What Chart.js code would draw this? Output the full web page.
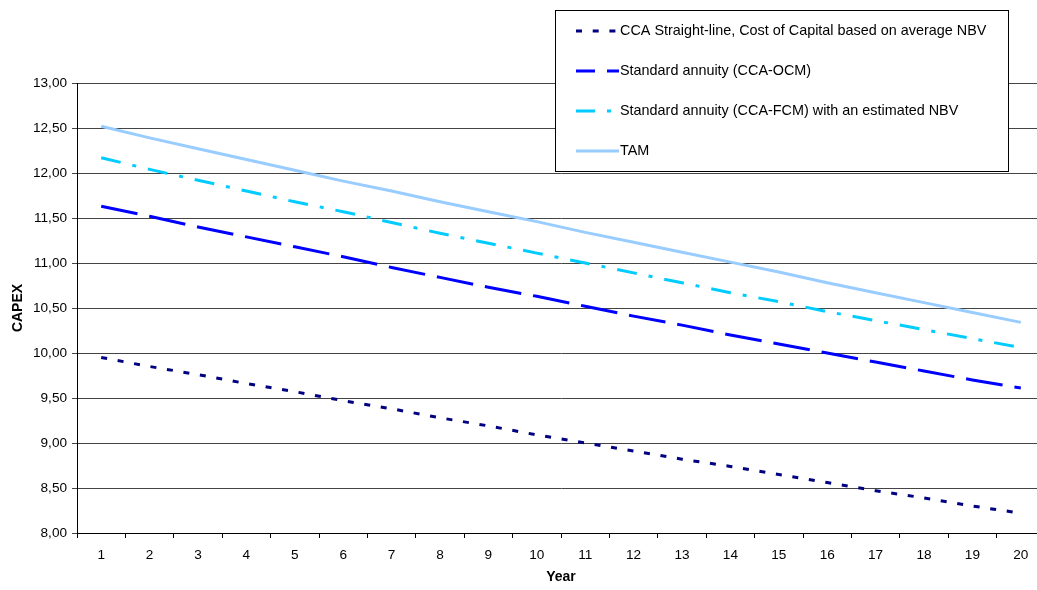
<!DOCTYPE html>
<html>
<head>
<meta charset="utf-8">
<script src="https://cdn.jsdelivr.net/npm/chart.js@4"></script>
<style>
  html, body { margin: 0; padding: 0; background: #fff; overflow: hidden; }
  #wrap { width: 1045px; height: 590px; }
</style>
</head>
<body>
<div id="wrap"><canvas id="c" width="1045" height="590"></canvas></div>
<script>
// years on the x axis
const years = ["1","2","3","4","5","6","7","8","9","10","11","12","13","14","15","16","17","18","19","20"];

// CAPEX per year
const ccaStraightLine = [9.95, 9.85, 9.76, 9.66, 9.57, 9.47, 9.38, 9.28, 9.19, 9.09,
                         9.00, 8.91, 8.82, 8.74, 8.65, 8.56, 8.47, 8.39, 8.30, 8.22];
const annuityOcm      = [11.63, 11.52, 11.40, 11.29, 11.18, 11.07, 10.95, 10.84, 10.73, 10.63,
                         10.52, 10.41, 10.31, 10.20, 10.10, 10.00, 9.90, 9.80, 9.70, 9.61];
const annuityFcm      = [12.17, 12.04, 11.92, 11.80, 11.68, 11.57, 11.45, 11.33, 11.22, 11.11,
                         11.00, 10.89, 10.78, 10.67, 10.57, 10.46, 10.36, 10.26, 10.16, 10.06];
const tam             = [12.52, 12.39, 12.27, 12.15, 12.03, 11.91, 11.80, 11.68, 11.57, 11.46,
                         11.34, 11.23, 11.12, 11.01, 10.90, 10.78, 10.67, 10.56, 10.45, 10.34];

const seriesNames = [
  "CCA Straight-line, Cost of Capital based on average NBV",
  "Standard annuity (CCA-OCM)",
  "Standard annuity (CCA-FCM) with an estimated NBV",
  "TAM"
];

const FONT = "'Liberation Sans', Arial, sans-serif";

// legend box drawn on top of the plot, like the Excel original
const boxLegend = {
  id: "boxLegend",
  afterDraw(chart) {
    const ctx = chart.ctx;
    const x0 = 555.5, y0 = 10.5, w = 453, h = 161;
    const rows = [31, 71, 111, 151];
    const dashOffsets = [0, 18, 1, 0]; // phase of the sample dash, as in Excel
    ctx.save();
    ctx.fillStyle = "#fff";
    ctx.fillRect(x0, y0, w, h);
    ctx.strokeStyle = "#000";
    ctx.lineWidth = 1;
    ctx.strokeRect(x0, y0, w, h);
    chart.data.datasets.forEach((ds, i) => {
      ctx.strokeStyle = ds.borderColor;
      ctx.lineWidth = ds.borderWidth;
      ctx.setLineDash(ds.borderDash || []);
      ctx.lineDashOffset = dashOffsets[i];
      ctx.beginPath();
      ctx.moveTo(576, rows[i]);
      ctx.lineTo(619, rows[i]);
      ctx.stroke();
      ctx.setLineDash([]);
      ctx.fillStyle = "#000";
      ctx.font = "14.4px " + FONT;
      ctx.textBaseline = "middle";
      ctx.fillText(ds.label, 620, rows[i]);
    });
    ctx.restore();
  }
};

new Chart(document.getElementById("c").getContext("2d"), {
  type: "line",
  data: {
    labels: years,
    datasets: [
      { label: seriesNames[0], data: ccaStraightLine, borderColor: "#000080", borderWidth: 3, borderDash: [6, 10.7] },
      { label: seriesNames[1], data: annuityOcm,      borderColor: "#0000FF", borderWidth: 3, borderDash: [37, 12] },
      { label: seriesNames[2], data: annuityFcm,      borderColor: "#00CCFF", borderWidth: 3, borderDash: [20, 12, 4, 12] },
      { label: seriesNames[3], data: tam,             borderColor: "#99CCFF", borderWidth: 3 }
    ]
  },
  options: {
    responsive: false,
    animation: false,
    layout: { padding: { left: 0, right: 0, top: 83, bottom: 0 } },
    elements: { point: { radius: 0 }, line: { tension: 0 } },
    plugins: { legend: { display: false }, tooltip: { enabled: false } },
    scales: {
      x: {
        offset: true,
        grid: { offset: true, drawOnChartArea: false, drawTicks: true, tickLength: 5, color: "#000" },
        border: { color: "#000", width: 1 },
        ticks: { color: "#000", font: { family: FONT, size: 13.6 }, padding: 9, maxRotation: 0 },
        title: { display: true, text: "Year", color: "#000", font: { family: FONT, size: 14, weight: "bold" } },
        afterFit(scale) { scale.height = 57; }
      },
      y: {
        min: 8,
        max: 13,
        ticks: {
          stepSize: 0.5,
          color: "#000",
          font: { family: FONT, size: 13.6 },
          padding: 5,
          callback: v => v.toFixed(2).replace(".", ",")
        },
        grid: { color: "#444", lineWidth: 1, tickLength: 5 },
        border: { color: "#000", width: 1 },
        title: { display: true, text: "CAPEX", color: "#000", font: { family: FONT, size: 14, weight: "bold" }, padding: { top: 10, bottom: 4 } },
        afterFit(scale) { scale.width = 77; }
      }
    }
  },
  plugins: [boxLegend]
});
</script>
</body>
</html>
